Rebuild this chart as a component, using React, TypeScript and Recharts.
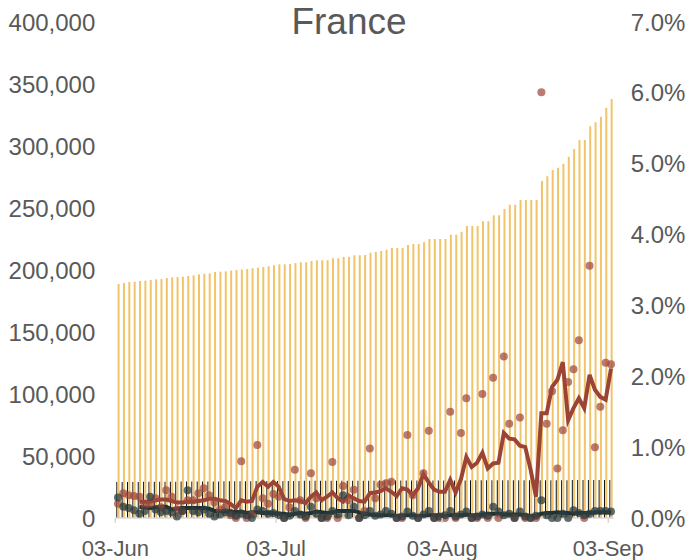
import React from "react";
import {
  ComposedChart,
  Bar,
  Line,
  XAxis,
  YAxis,
} from "recharts";

const dates = [
  "03-Jun", "04-Jun", "05-Jun", "06-Jun", "07-Jun", "08-Jun", "09-Jun", "10-Jun", "11-Jun", "12-Jun",
  "13-Jun", "14-Jun", "15-Jun", "16-Jun", "17-Jun", "18-Jun", "19-Jun", "20-Jun", "21-Jun", "22-Jun",
  "23-Jun", "24-Jun", "25-Jun", "26-Jun", "27-Jun", "28-Jun", "29-Jun", "30-Jun",
  "01-Jul", "02-Jul", "03-Jul", "04-Jul", "05-Jul", "06-Jul", "07-Jul", "08-Jul", "09-Jul", "10-Jul",
  "11-Jul", "12-Jul", "13-Jul", "14-Jul", "15-Jul", "16-Jul", "17-Jul", "18-Jul", "19-Jul", "20-Jul",
  "21-Jul", "22-Jul", "23-Jul", "24-Jul", "25-Jul", "26-Jul", "27-Jul", "28-Jul", "29-Jul", "30-Jul", "31-Jul",
  "01-Aug", "02-Aug", "03-Aug", "04-Aug", "05-Aug", "06-Aug", "07-Aug", "08-Aug", "09-Aug", "10-Aug",
  "11-Aug", "12-Aug", "13-Aug", "14-Aug", "15-Aug", "16-Aug", "17-Aug", "18-Aug", "19-Aug", "20-Aug",
  "21-Aug", "22-Aug", "23-Aug", "24-Aug", "25-Aug", "26-Aug", "27-Aug", "28-Aug", "29-Aug", "30-Aug", "31-Aug",
  "01-Sep", "02-Sep", "03-Sep",
];

const shownDates = ["03-Jun", "03-Jul", "03-Aug", "03-Sep"];

// cumulative cases (left axis)
const cases = [
  188700, 189500, 190300, 190600, 191100, 191400, 191900, 192500, 192700, 193500,
  194100, 194400, 194600, 195200, 195700, 196500, 197000, 197300, 198400, 198700,
  198900, 199600, 200000, 200400, 200800, 201400, 201900, 202400, 203000, 203800,
  204600, 204600, 204800, 205600, 206200, 206200, 207300, 207800, 207800, 207800,
  209400, 209400, 210500, 210700, 211900, 211900, 212100, 214000, 214500, 215300,
  216400, 217700, 217700, 217700, 220200, 221000, 221000, 222300, 225000, 225000,
  225000, 225000, 228500, 228500, 230900, 235500, 235500, 235500, 239300, 239300,
  244100, 244100, 249200, 252700, 252700, 256500, 256500, 256500, 256500, 271800,
  275600, 280600, 282500, 285700, 291400, 297600, 304800, 304800, 315900, 319100,
  323600, 330900, 337900,
];

// cumulative deaths (left axis)
const deaths = [
  29020, 29040, 29060, 29100, 29130, 29150, 29170, 29200, 29230, 29270,
  29300, 29320, 29340, 29360, 29390, 29420, 29460, 29490, 29510, 29530,
  29570, 29610, 29640, 29660, 29690, 29720, 29750, 29780,
  29810, 29840, 29860, 29880, 29890, 29900, 29920, 29940, 29960, 29980,
  29990, 30000, 30010, 30020, 30030, 30050, 30070, 30090, 30100, 30110,
  30130, 30150, 30160, 30180, 30200, 30210, 30220, 30230, 30250, 30260, 30270,
  30280, 30290, 30300, 30310, 30320, 30330, 30340, 30350, 30360, 30370,
  30380, 30390, 30400, 30410, 30420, 30430, 30440, 30450, 30460, 30470,
  30480, 30490, 30500, 30510, 30520, 30530, 30550, 30570, 30590, 30600, 30610,
  30640, 30680, 30720,
];

// daily growth of cases, % (right axis)
const casesGrowth = [
  0.2, 0.35, 0.32, 0.31, 0.3, 0.18, 0.2, 0.28, 0.15, 0.39,
  0.3, 0.12, 0.1, 0.25, 0.25, 0.35, 0.42, 0.32, 0.22, 0.12,
  0.15, 0.04, 0, 0.8, 0, 0.05, 1.03, 0.28, 0.2, 0.34,
  0.3, 0, 0.15, 0.68, 0.25, 0, 0.63, 0.28, 0, 0,
  0.79, 0, 0.45, 0.25, 0.4, 0, 0.1, 0.98, 0.28, 0.47,
  0.49, 0.51, 0, 0, 1.17, 0.32, 0, 0.63, 1.23, 0,
  0, 0, 1.5, 0, 1.2, 1.69, 0, 0, 1.75, 0,
  1.98, 0, 2.28, 1.33, 0, 1.42, 0, 0, 0, 6.01,
  1.33, 1.79, 0.7, 1.24, 1.92, 2.1, 2.51, 0, 3.56, 1.0,
  1.57, 2.19, 2.17,
];

const casesAvg = [
  null, null, null, null, 0.23, 0.23, 0.23, 0.25, 0.26, 0.26,
  0.24, 0.22, 0.22, 0.23, 0.23, 0.24, 0.25, 0.27, 0.27, 0.25,
  0.24, 0.2, 0.14, 0.25, 0.23, 0.24, 0.44, 0.51, 0.44, 0.51,
  0.44, 0.27, 0.24, 0.25, 0.24, 0.21, 0.3, 0.36, 0.25, 0.3,
  0.36, 0.28, 0.23, 0.32, 0.28, 0.24, 0.23, 0.35, 0.36, 0.38,
  0.42, 0.37, 0.31, 0.42, 0.4, 0.32, 0.42, 0.62, 0.5, 0.4,
  0.37, 0.37, 0.54, 0.36, 0.55, 0.86, 0.72, 0.78, 0.92, 0.7,
  0.77, 0.78, 1.2, 1.12, 1.11, 1.02, 1.0, 0.68, 0.3, 1.48,
  1.48, 1.85, 1.95, 2.2, 1.38, 1.55, 1.69, 1.55, 2.02, 1.81,
  1.71, 1.67, 2.11,
];

// daily growth of deaths, % (right axis)
const deathsGrowth = [
  0.29, 0.16, 0.14, 0.11, 0.06, 0.1, 0.3, 0.12, 0.08, 0.1,
  0.08, 0.02, 0.1, 0.39, 0.1, 0.08, 0.12, 0.06, 0.02, 0.05,
  0.08, 0.07, 0.03, 0.06, 0.04, 0, 0.12, 0.1, 0.06, 0.07,
  0.04, 0, 0.03, 0.1, 0.05, 0.02, 0.16, 0.06, 0, 0.02,
  0.1, 0.05, 0.32, 0.04, 0.16, 0, 0.04, 0.1, 0.03, 0.05,
  0.1, 0.06, 0, 0.02, 0.09, 0.03, 0, 0.05, 0.1, 0,
  0.02, 0.04, 0.1, 0.02, 0.05, 0.09, 0, 0.02, 0.05, 0.03,
  0.16, 0.09, 0.04, 0.06, 0, 0.09, 0.02, 0, 0.03, 0.25,
  0.04, 0, 0, 0.06, 0, 0.11, 0.07, 0.04, 0.06, 0.1,
  0.1, 0.1, 0.09,
];

const deathsAvg = [
  null, null, null, null, 0.16, 0.15, 0.14, 0.15, 0.16, 0.16,
  0.12, 0.13, 0.14, 0.14, 0.14, 0.14, 0.14, 0.13, 0.1, 0.1,
  0.09, 0.09, 0.08, 0.09, 0.07, 0.08, 0.08, 0.07, 0.07, 0.07,
  0.06, 0.06, 0.04, 0.06, 0.07, 0.06, 0.07, 0.09, 0.08, 0.07,
  0.08, 0.1, 0.1, 0.1, 0.1, 0.08, 0.06, 0.05, 0.04, 0.04,
  0.04, 0.04, 0.03, 0.03, 0.04, 0.04, 0.03, 0.03, 0.04, 0.04,
  0.04, 0.03, 0.04, 0.04, 0.04, 0.05, 0.04, 0.04, 0.05, 0.06,
  0.06, 0.06, 0.05, 0.05, 0.05, 0.05, 0.04, 0.03, 0.03, 0.06,
  0.07, 0.07, 0.08, 0.07, 0.07, 0.06, 0.07, 0.07, 0.07, 0.08,
  0.08, 0.08, 0.08,
];

const leftTicks = [0, 50000, 100000, 150000, 200000, 250000, 300000, 350000, 400000];
const rightTicks = [0, 1, 2, 3, 4, 5, 6, 7];

const data = dates.map((d, i) => ({
  date: d,
  cases: cases[i],
  deaths: deaths[i],
  casesGrowth: casesGrowth[i],
  casesAvg: casesAvg[i],
  deathsGrowth: deathsGrowth[i],
  deathsAvg: deathsAvg[i],
}));

const FONT = "'Liberation Sans', Arial, sans-serif";
const TEXT = "#595959";

const DateTick = (props: any) => {
  const { x, y, payload } = props;
  if (!shownDates.includes(payload.value)) return null;
  const edge = x - 2.7;
  return (
    <g>
      <line x1={edge} x2={edge} y1={y - 22} y2={y - 17} stroke="#D9D9D9" strokeWidth={1.5} />
      <text x={edge} y={y} dy="0.71em" textAnchor="middle" fill={TEXT} fontSize={22} fontFamily={FONT}>
        {payload.value}
      </text>
    </g>
  );
};

export default function App() {
  return (
    <div style={{ position: "absolute", left: 0, top: 0, width: 698, height: 560, background: "#fff" }}>
      <div
        style={{
          position: "absolute",
          top: 0,
          left: 0,
          width: 698,
          textAlign: "center",
          fontFamily: FONT,
          fontSize: 37,
          lineHeight: "44px",
          color: TEXT,
        }}
      >
        France
      </div>
      <ComposedChart
        width={698}
        height={560}
        data={data}
        margin={{ top: 22, right: 0, bottom: 0, left: 0 }}
        barGap={0.3}
      >
        <XAxis
          dataKey="date"
          interval={0}
          height={42}
          axisLine={{ stroke: "#D9D9D9", strokeWidth: 1.5 }}
          tickLine={false}
          tickSize={5}
          tickMargin={17}
          tick={<DateTick />}
        />
        <YAxis
          yAxisId="left"
          width={115.3}
          domain={[0, 400000]}
          ticks={leftTicks}
          axisLine={false}
          tickLine={false}
          tickSize={0}
          tickMargin={20}
          tickFormatter={(v) => Number(v).toLocaleString("en-US")}
          tick={{ fill: TEXT, fontSize: 24, fontFamily: FONT }}
        />
        <YAxis
          yAxisId="right"
          orientation="right"
          width={84.3}
          domain={[0, 7]}
          ticks={rightTicks}
          axisLine={false}
          tickLine={false}
          tickSize={0}
          tickMargin={17}
          tickFormatter={(v) => `${Number(v).toFixed(1)}%`}
          tick={{ fill: TEXT, fontSize: 24, fontFamily: FONT }}
        />
        <Bar yAxisId="left" dataKey="deaths" fill="#111111" barSize={1} isAnimationActive={false} />
        <Bar yAxisId="left" dataKey="cases" fill="#F1C46B" barSize={2} isAnimationActive={false} />
        <Line
          yAxisId="right"
          dataKey="casesGrowth"
          stroke="none"
          dot={{ r: 4, fill: "#A0493C", fillOpacity: 0.72, stroke: "none" }}
          activeDot={false}
          isAnimationActive={false}
        />
        <Line
          yAxisId="right"
          dataKey="deathsGrowth"
          stroke="none"
          dot={{ r: 4, fill: "#2C3E40", fillOpacity: 0.75, stroke: "none" }}
          activeDot={false}
          isAnimationActive={false}
        />
        <Line
          yAxisId="right"
          type="linear"
          dataKey="casesAvg"
          stroke="#9B4436"
          strokeWidth={4}
          dot={false}
          activeDot={false}
          isAnimationActive={false}
        />
        <Line
          yAxisId="right"
          type="linear"
          dataKey="deathsAvg"
          stroke="#1E3133"
          strokeWidth={4}
          dot={false}
          activeDot={false}
          isAnimationActive={false}
        />
      </ComposedChart>
    </div>
  );
}
